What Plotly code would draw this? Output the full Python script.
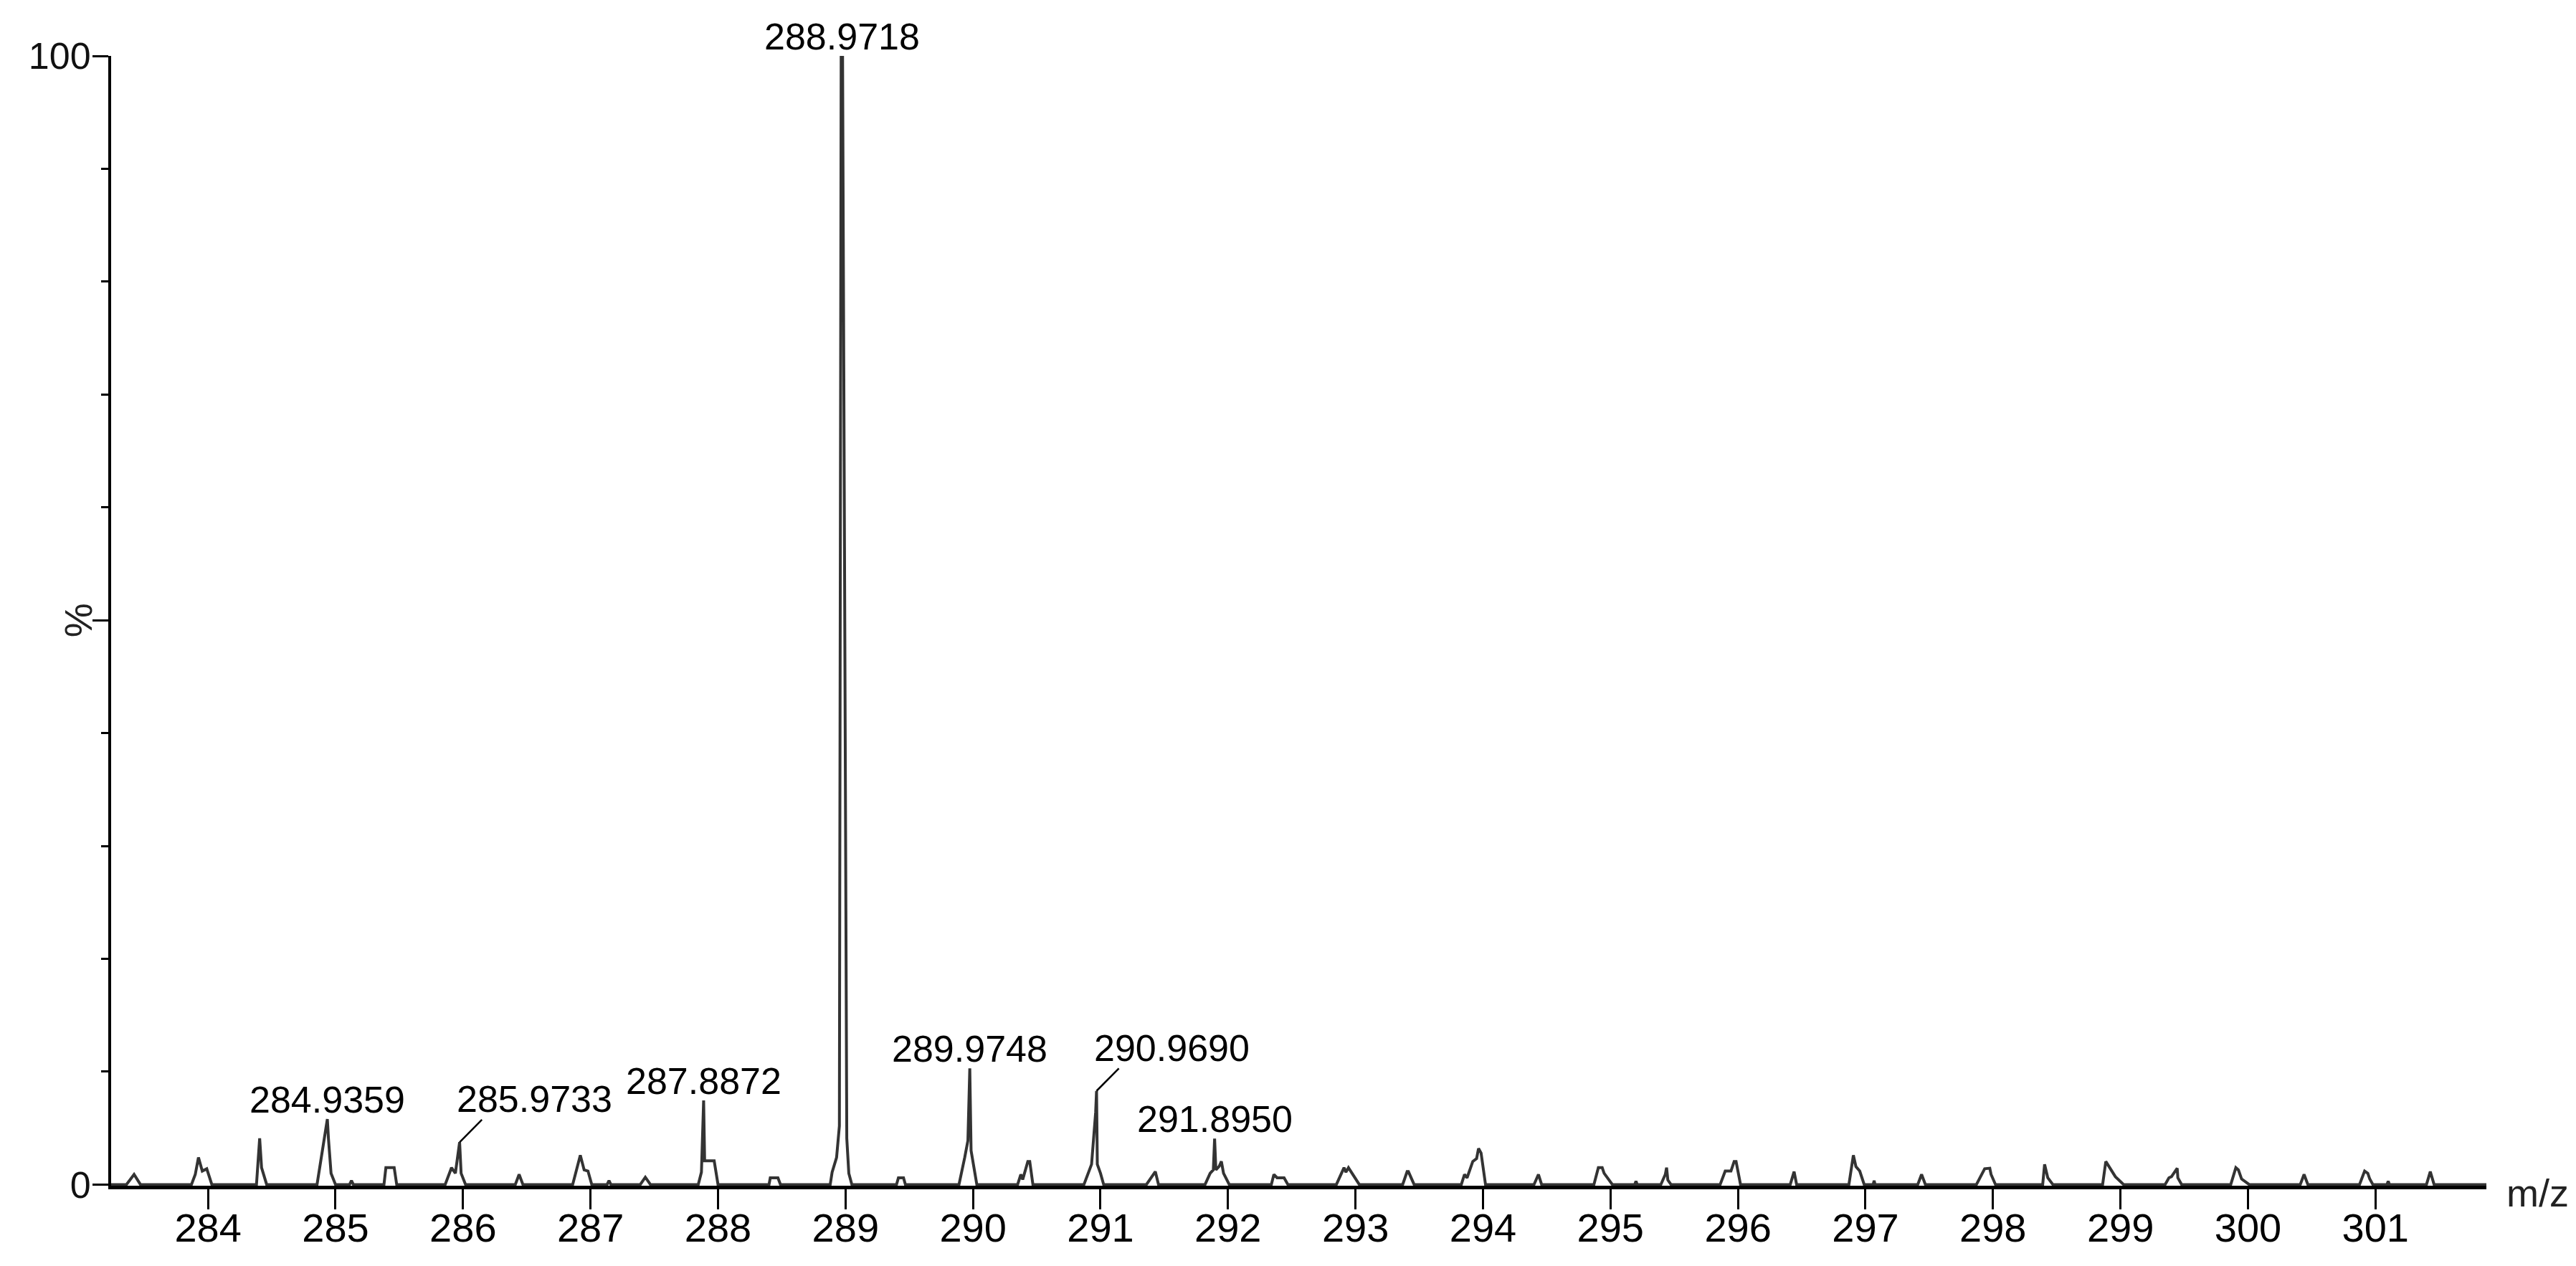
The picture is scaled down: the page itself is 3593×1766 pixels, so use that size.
import plotly.graph_objects as go

# spectrum profile (m/z, relative intensity %)
mz = [
    283.24,
    283.36, 283.42, 283.47,
    283.87, 283.90, 283.925, 283.955, 283.99, 284.03,
    284.38, 284.405, 284.42, 284.46,
    284.855, 284.89, 284.91, 284.9359, 284.945, 284.965, 285.00,
    285.11, 285.125, 285.14,
    285.38, 285.395, 285.46, 285.48,
    285.86, 285.91, 285.94, 285.9733, 285.985, 286.02,
    286.41, 286.44, 286.47,
    286.86, 286.92, 286.95, 286.98, 287.01,
    287.13, 287.145, 287.16,
    287.39, 287.43, 287.47,
    287.845, 287.87, 287.8872, 287.895, 287.97, 288.00,
    288.40, 288.41, 288.47, 288.49,
    288.88, 288.895, 288.93, 288.952, 288.966, 288.9718, 288.977, 289.01, 289.026, 289.05,
    289.40, 289.415, 289.455, 289.47,
    289.89, 289.935, 289.96, 289.9748, 289.985, 290.03,
    290.35, 290.375, 290.39, 290.43, 290.445, 290.47,
    290.87, 290.93, 290.962, 290.969, 290.975, 291.00, 291.025,
    291.36, 291.43, 291.455,
    291.82, 291.86, 291.885, 291.895, 291.905, 291.93, 291.948, 291.965, 292.01,
    292.34, 292.36, 292.385, 292.44, 292.47,
    292.85, 292.91, 292.925, 292.945, 293.03,
    293.37, 293.405, 293.415, 293.46,
    293.83, 293.855, 293.875, 293.92, 293.95, 293.965, 293.985, 294.02,
    294.40, 294.435, 294.46,
    294.87, 294.905, 294.935, 294.95, 295.015,
    295.19, 295.20, 295.21,
    295.395, 295.43, 295.44, 295.45, 295.475,
    295.86, 295.90, 295.945, 295.97, 295.985, 296.02,
    296.41, 296.44, 296.46,
    296.87, 296.905, 296.925, 296.955, 296.99, 297.06, 297.068, 297.075,
    297.41, 297.44, 297.47,
    297.87, 297.905, 297.935, 297.975, 297.985, 298.02,
    298.39, 298.405, 298.43, 298.47,
    298.86, 298.885, 298.93, 298.96, 299.025,
    299.35, 299.38, 299.40, 299.445, 299.45, 299.48,
    299.865, 299.905, 299.925, 299.95, 300.01,
    300.41, 300.44, 300.47,
    300.875, 300.915, 300.94, 300.955, 300.98, 301.09, 301.10, 301.11,
    301.40, 301.43, 301.46,
    301.87,
]
intensity = [
    0,
    0, 0.9, 0,
    0, 0.9, 2.4, 1.2, 1.4, 0,
    0, 4.1, 1.5, 0,
    0, 2.6, 4.0, 5.8, 4.0, 1.0, 0,
    0, 0.35, 0,
    0, 1.5, 1.5, 0,
    0, 1.5, 1.0, 3.75, 1.0, 0,
    0, 0.9, 0,
    0, 2.6, 1.3, 1.2, 0,
    0, 0.35, 0,
    0, 0.65, 0,
    0, 1.1, 7.46, 2.1, 2.1, 0,
    0, 0.6, 0.6, 0,
    0, 1.1, 2.4, 5.2, 100, 100, 100, 4.1, 1.0, 0,
    0, 0.6, 0.6, 0,
    0, 2.4, 3.9, 10.3, 3.0, 0,
    0, 0.9, 0.45, 2.05, 2.05, 0,
    0, 1.8, 6.4, 8.3, 1.8, 1.0, 0,
    0, 1.15, 0,
    0, 1.0, 1.3, 4.07, 1.3, 1.6, 2.05, 1.0, 0,
    0, 0.9, 0.6, 0.6, 0,
    0, 1.5, 1.1, 1.5, 0,
    0, 1.15, 1.15, 0,
    0, 0.9, 0.6, 2.05, 2.3, 3.2, 2.8, 0,
    0, 0.9, 0,
    0, 1.5, 1.5, 1.0, 0,
    0, 0.3, 0,
    0, 0.9, 1.5, 0.4, 0,
    0, 1.2, 1.2, 2.05, 2.05, 0,
    0, 1.15, 0,
    0, 2.6, 1.6, 1.2, 0, 0, 0.35, 0,
    0, 0.9, 0,
    0, 0.8, 1.4, 1.45, 0.9, 0,
    0, 1.8, 0.6, 0,
    0, 2.05, 1.3, 0.7, 0,
    0, 0.6, 0.7, 1.45, 0.6, 0,
    0, 1.5, 1.3, 0.5, 0,
    0, 0.9, 0,
    0, 1.2, 1.0, 0.5, 0, 0, 0.3, 0,
    0, 1.15, 0,
    0,
]

# labelled peaks
peak_mz = [284.9359, 285.9733, 287.8872, 288.9718, 289.9748, 290.9690, 291.8950]
peak_pct = [5.8, 3.75, 7.46, 100, 10.3, 8.3, 4.07]
peak_text = ["284.9359", "285.9733", "287.8872", "288.9718", "289.9748", "290.9690", "291.8950"]
leader = [False, True, False, False, False, True, False]

x_ticks = list(range(284, 302))

FONT = "Arial, 'Liberation Sans', sans-serif"
INK = "#333333"

fig = go.Figure()
fig.add_trace(go.Scatter(
    x=mz, y=intensity, mode="lines",
    line=dict(color=INK, width=4),
    hoverinfo="x+y", showlegend=False,
))

annotations = []
shapes = []
for mzv, pct, txt, lead in zip(peak_mz, peak_pct, peak_text, leader):
    if lead:
        shapes.append(dict(type="line", xref="x", yref="y",
                           x0=mzv, y0=pct, x1=mzv + 0.175, y1=pct + 2.0,
                           line=dict(color="black", width=2.5)))
        annotations.append(dict(x=mzv + 0.59, y=pct, xref="x", yref="y",
                                text=txt, showarrow=False, yanchor="middle",
                                yshift=60, font=dict(family=FONT, size=52, color="black")))
    else:
        annotations.append(dict(x=mzv, y=pct, xref="x", yref="y",
                                text=txt, showarrow=False, yanchor="middle",
                                yshift=27, font=dict(family=FONT, size=52, color="black")))

# axis titles drawn as free text like the instrument output
annotations.append(dict(x=0, y=50, xref="paper", yref="y", text="%",
                        showarrow=False, textangle=-90, xanchor="center",
                        xshift=-46, font=dict(family=FONT, size=54, color="#222")))
annotations.append(dict(x=1, y=-0.1, xref="paper", yref="y", text="m/z",
                        showarrow=False, xanchor="left", yanchor="middle",
                        xshift=26, yshift=-10, font=dict(family=FONT, size=54, color="#222")))

fig.update_layout(
    width=3577, height=1750,
    margin=dict(l=147, r=117, t=70, b=104),
    paper_bgcolor="white", plot_bgcolor="white",
    font=dict(family=FONT, size=56, color="black"),
    annotations=annotations, shapes=shapes,
    xaxis=dict(
        range=[283.24, 301.87], tickvals=x_ticks, automargin=False,
        showline=True, linecolor="black", linewidth=5,
        ticks="outside", ticklen=28, tickwidth=3, tickcolor="black",
        ticklabelstandoff=-22,
        showgrid=False, zeroline=False,
        tickfont=dict(family=FONT, size=56, color="black"),
    ),
    yaxis=dict(
        range=[-0.1, 100], tickvals=[0, 50, 100], ticktext=["0", "", "100"],
        automargin=False,
        showline=True, linecolor="black", linewidth=4,
        ticks="outside", ticklen=22, tickwidth=3, tickcolor="black",
        ticklabelstandoff=-8,
        minor=dict(dtick=10, ticks="outside", ticklen=10, tickwidth=3, tickcolor="black"),
        showgrid=False, zeroline=False,
        tickfont=dict(family=FONT, size=52, color="#111"),
    ),
)

fig.write_html("out.html")
